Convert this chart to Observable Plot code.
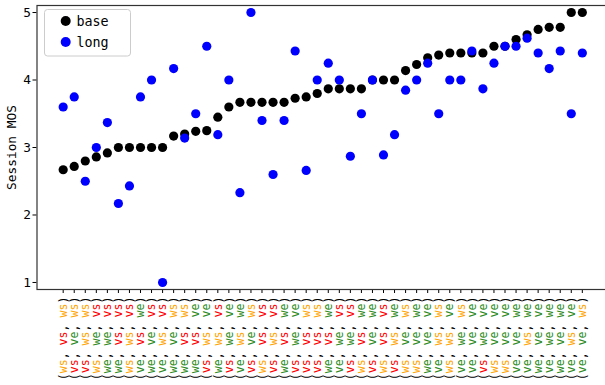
<!DOCTYPE html>
<html><head><meta charset="utf-8">
<script src="https://cdn.jsdelivr.net/npm/d3@7"></script>
<script src="https://cdn.jsdelivr.net/npm/@observablehq/plot@0.6"></script>
<style>body{margin:0;background:#fff}#chart{width:605px;height:385px;overflow:hidden}</style>
</head><body><div id="chart"></div>
<script>
// first / second / third word of each x tick label "(a, b, c)"
const firstWord  = ["ws","vs","vs","ws","we","we","ws","ve","we","ve","we","we","we","vs","we","vs","ve","vs","ws","vs","we","vs","vs","vs","we","ve","vs","ws","vs","ws","vs","ws","ws","we","ve","ws","ve","ve","vs","ws","ws","ve","ve","we","ve","we","ve","ve"];
const secondWord = ["vs","ve","ws","we","we","vs","ws","vs","ve","ws","ve","vs","vs","ws","ws","we","ws","ve","vs","ws","vs","we","vs","vs","vs","we","we","vs","ve","vs","ws","ve","ve","ve","ws","ws","we","ve","we","ve","ve","ve","ws","ve","we","ve","ws","ve"];
const thirdWord  = ["ws","ws","ws","vs","vs","vs","vs","we","vs","vs","ws","ws","ve","ve","vs","ve","we","ws","vs","vs","we","ve","ws","ws","we","vs","vs","we","we","vs","we","ws","we","ve","ws","ve","ws","ve","ve","ve","ve","we","we","ve","we","we","ve","ws"];
const baseMOS = [2.67,2.72,2.8,2.86,2.92,3,3,3,3,3,3.17,3.2,3.24,3.25,3.45,3.6,3.67,3.67,3.67,3.67,3.67,3.73,3.75,3.8,3.87,3.87,3.87,3.87,4,4,4,4.14,4.23,4.33,4.37,4.4,4.4,4.4,4.4,4.5,4.5,4.6,4.67,4.75,4.78,4.78,5,5];
const longMOS = [3.6,3.75,2.5,3.0,3.37,2.17,2.43,3.75,4.0,1.0,4.17,3.14,3.5,4.5,3.19,4.0,2.33,5.0,3.4,2.6,3.4,4.43,2.66,4.0,4.25,4.0,2.87,3.5,4.0,2.89,3.19,3.85,4.0,4.25,3.5,4.0,4.0,4.43,3.87,4.25,4.5,4.5,4.62,4.4,4.17,4.43,3.5,4.4];
const yTicks = [1,2,3,4,5];
const seriesNames = ["base","long"];
const seriesColors = ["black","blue"];
const wordColors = {vs:"#ff0000", ws:"#ffa500", ve:"#2e8b22", we:"#2e8b22"};

const labels = firstWord.map((w,i)=>`(${w}, ${secondWord[i]}, ${thirdWord[i]})`);
const idx = labels.map((_,i)=>i);
const rows = idx.map(i=>({i, base:baseMOS[i], long:longMOS[i]}));

const chart = Plot.plot({
  width: 605, height: 385,
  marginLeft: 36.5, marginRight: -3, marginTop: 5, marginBottom: 96,
  style: {fontFamily:"'DejaVu Sans Mono', monospace", fontSize:"12.8px", color:"black", background:"white"},
  x: {type:"linear", domain:[-2.37, 49.37]},
  y: {domain:[0.896, 5.104]},
  marks: [
    Plot.axisY({ticks:yTicks, tickFormat:d=>String(d), tickSize:4, tickPadding:2, label:"Session MOS", labelAnchor:"center", labelArrow:"none", labelOffset:30, fontSize:12.8}),
    Plot.axisX({ticks:idx, tickSize:4, tickPadding:3, tickRotate:-90, tickFormat:i=>labels[i], label:null, fontSize:11.6}),
    Plot.dot(rows, {x:"i", y:"base", r:4.6, fill:seriesColors[0]}),
    Plot.dot(rows, {x:"i", y:"long", r:4.6, fill:seriesColors[1]}),
    Plot.frame({stroke:"#333", strokeWidth:1.2})
  ]
});
document.getElementById("chart").append(chart);

// colour the words inside each x tick label
const svg = d3.select(chart);
svg.selectAll('g[aria-label="x-axis tick label"] text').each(function(){
  const t = this.textContent;
  const m = t.match(/^\((\w+), (\w+), (\w+)\)$/);
  if (!m) return;
  const sel = d3.select(this);
  sel.text(null);
  const parts = [["(","black"],[m[1],wordColors[m[1]]],[", ","black"],[m[2],wordColors[m[2]]],[", ","black"],[m[3],wordColors[m[3]]],[")","black"]];
  for (const [s,c] of parts) sel.append("tspan").attr("fill", c).text(s);
});

// legend
const lg = svg.append("g").attr("font-family","'DejaVu Sans Mono', monospace").attr("font-size","13.4px");
lg.append("rect").attr("x",44.5).attr("y",9.5).attr("width",86).attr("height",46.5).attr("rx",3)
  .attr("fill","white").attr("fill-opacity",0.8).attr("stroke","#cccccc");
seriesNames.forEach((n,k)=>{
  const cy = 21 + k*21;
  lg.append("circle").attr("cx",65.7).attr("cy",cy).attr("r",5).attr("fill",seriesColors[k]);
  lg.append("text").attr("x",92.5).attr("y",cy).attr("dy","0.35em").attr("fill","black").text(n);
});
</script>
</body></html>
